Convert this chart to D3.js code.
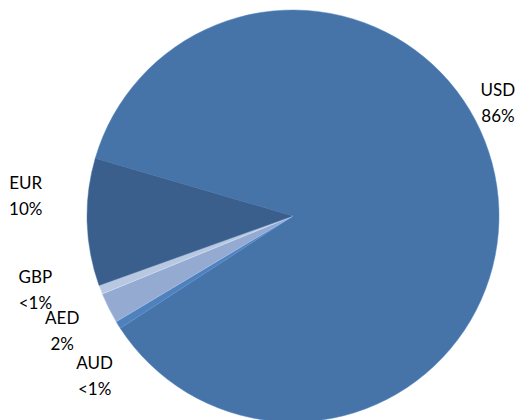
<!DOCTYPE html>
<html>
<head>
<meta charset="utf-8">
<script src="https://cdn.jsdelivr.net/npm/d3@7"></script>
<style>
  html, body { margin: 0; padding: 0; background: #fff; }
  svg { display: block; }
</style>
</head>
<body>
<div id="svg-container"></div>
<script>
// Data (clockwise order, as drawn)
const currencies = ['USD', 'AUD', 'AED', 'GBP', 'EUR']
const shares = [86.3, 0.6, 2.4, 0.7, 10.0]
const shareLabels = ['86%', '<1%', '2%', '<1%', '10%']
const sliceColors = ['#4674a8', '#4f81bd', '#95aad1', '#b9c8e1', '#3b5f8d']

// Layout
const width = 519
const height = 420
const cx = 293
const cy = 216
const radius = 206
const startDeg = -73.7

// label placement: offset from slice mid-angle (deg) and distance from centre
const labelLayout = {
  USD: { turn: -20.5, dist: 234 },
  AUD: { turn: -7, dist: 255 },
  AED: { turn: 0, dist: 258 },
  GBP: { turn: 5, dist: 268 },
  EUR: { turn: 6, dist: 268 },
}

const rad = d => (d * Math.PI) / 180

const svg = d3
  .select('#svg-container')
  .append('svg')
  .attr('width', width)
  .attr('height', height)
  .attr('viewBox', `0 0 ${width} ${height}`)

const rows = currencies.map((c, i) => ({
  currency: c,
  share: shares[i],
  label: shareLabels[i],
  color: sliceColors[i],
}))

const pie = d3
  .pie()
  .sort(null)
  .value(d => d.share)
  .startAngle(rad(startDeg))
  .endAngle(rad(startDeg + 360))

const arcs = pie(rows)
const arc = d3.arc().innerRadius(0).outerRadius(radius)

const chartCore = svg.append('g').attr('transform', `translate(${cx}, ${cy})`)

chartCore
  .selectAll('path')
  .data(arcs)
  .join('path')
  .attr('d', arc)
  .attr('fill', d => d.data.color)
  .attr('stroke', d => d3.rgb(d.data.color).brighter(0.4))
  .attr('stroke-width', 0.5)

const labels = chartCore
  .selectAll('text')
  .data(arcs)
  .join('text')
  .attr('text-anchor', 'middle')
  .style('font-family', 'Lato, "Open Sans", sans-serif')
  .style('font-size', '17px')
  .attr('fill', '#000')
  .attr('transform', d => {
    const lay = labelLayout[d.data.currency]
    const a = (d.startAngle + d.endAngle) / 2 + rad(lay.turn)
    const x = Math.sin(a) * lay.dist
    const y = -Math.cos(a) * lay.dist
    return `translate(${x}, ${y})`
  })

labels
  .append('tspan')
  .attr('x', 0)
  .attr('y', -7)
  .text(d => d.data.currency)

labels
  .append('tspan')
  .attr('x', 0)
  .attr('y', 19)
  .text(d => d.data.label)
</script>
</body>
</html>
